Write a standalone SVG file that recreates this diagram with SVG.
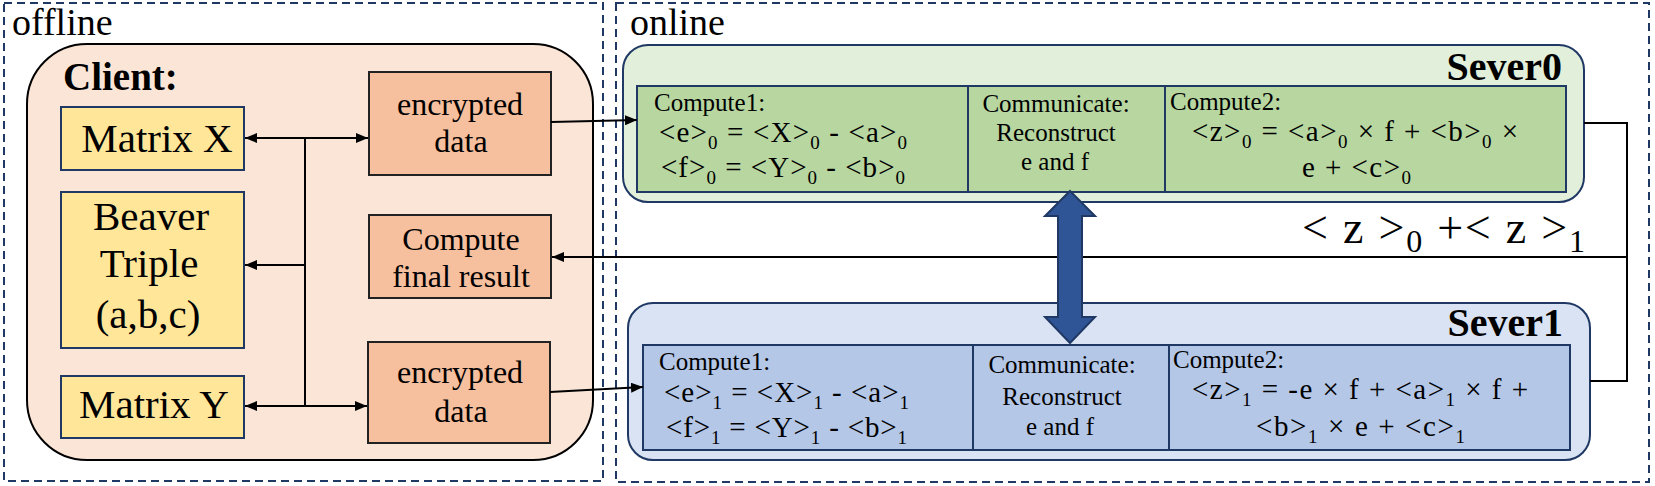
<svg xmlns="http://www.w3.org/2000/svg" width="1655" height="486" viewBox="0 0 1655 486">
<defs>
<style>
text{font-family:"Liberation Serif","Times New Roman",serif;fill:#000}
.zone{fill:none;stroke:#1f3864;stroke-width:2;stroke-dasharray:8 5}
.zl{font-size:38px}
.mat{fill:#ffe699;stroke:#1f3864;stroke-width:2}
.enc{fill:#f6bf9e;stroke:#222;stroke-width:2}
.big{font-size:41px}
.mid{font-size:32px;text-anchor:middle}
.s{font-size:25px}
.f{font-size:29px}
.sub{font-size:19px}
.sv{font-size:40px;font-weight:bold;text-anchor:end}
.ln{fill:none;stroke:#000;stroke-width:2}
</style>
<marker id="ah" viewBox="0 0 12 10" refX="12" refY="5" markerWidth="12" markerHeight="10" markerUnits="userSpaceOnUse" orient="auto">
<path d="M0,0 L12,5 L0,10 Z" fill="#000"/>
</marker>
</defs>
<rect x="0" y="0" width="1655" height="486" fill="#fff"/>

<g id="zone-offline">
<rect class="zone" x="4" y="3" width="599" height="478"/>
<text class="zl" x="12" y="35">offline</text>
</g>
<g id="zone-online">
<rect class="zone" x="616" y="3" width="1033" height="479"/>
<text class="zl" x="630" y="35">online</text>
</g>

<g id="client">
<rect x="27" y="44" width="566" height="416" rx="60" ry="60" fill="#fbe5d6" stroke="#000" stroke-width="2"/>
<text x="63" y="90" style="font-size:39px;font-weight:bold">Client:</text>
</g>

<g id="matrix-x">
<rect class="mat" x="61" y="107" width="183" height="63"/>
<text class="big" x="157" y="152" text-anchor="middle">Matrix X</text>
</g>
<g id="beaver">
<rect class="mat" x="61" y="192" width="183" height="156"/>
<text class="big" x="151" y="230" text-anchor="middle">Beaver</text>
<text class="big" x="149" y="277" text-anchor="middle">Triple</text>
<text class="big" x="148" y="328" text-anchor="middle">(a,b,c)</text>
</g>
<g id="matrix-y">
<rect class="mat" x="61" y="376" width="183" height="62"/>
<text class="big" x="154" y="418" text-anchor="middle">Matrix Y</text>
</g>

<g id="enc1">
<rect class="enc" x="369" y="72" width="182" height="103"/>
<text class="mid" x="460" y="115">encrypted</text>
<text class="mid" x="461" y="152">data</text>
</g>
<g id="final">
<rect class="enc" x="369" y="215" width="182" height="83"/>
<text class="mid" x="461" y="250">Compute</text>
<text class="mid" x="461" y="287">final result</text>
</g>
<g id="enc2">
<rect class="enc" x="368" y="342" width="182" height="101"/>
<text class="mid" x="460" y="383">encrypted</text>
<text class="mid" x="461" y="422">data</text>
</g>

<g id="sever0">
<rect x="623" y="45" width="961" height="157" rx="25" ry="25" fill="#e2efda" stroke="#1f3864" stroke-width="2"/>
<rect x="637" y="86" width="929" height="106" fill="#b7d6a0" stroke="#1f3864" stroke-width="2"/>
<line x1="968" y1="86" x2="968" y2="192" stroke="#1f3864" stroke-width="2"/>
<line x1="1165" y1="86" x2="1165" y2="192" stroke="#1f3864" stroke-width="2"/>
<text class="sv" x="1562" y="80">Sever0</text>
<text class="s" x="654" y="111">Compute1:</text>
<text class="f" x="659" y="142" textLength="248">&lt;e&gt;<tspan class="sub" dy="7">0</tspan><tspan dy="-7"> = &lt;X&gt;</tspan><tspan class="sub" dy="7">0</tspan><tspan dy="-7"> - &lt;a&gt;</tspan><tspan class="sub" dy="7">0</tspan></text>
<text class="f" x="661" y="177" textLength="244">&lt;f&gt;<tspan class="sub" dy="7">0</tspan><tspan dy="-7"> = &lt;Y&gt;</tspan><tspan class="sub" dy="7">0</tspan><tspan dy="-7"> - &lt;b&gt;</tspan><tspan class="sub" dy="7">0</tspan></text>
<text class="s" x="1056" y="112" text-anchor="middle">Communicate:</text>
<text class="s" x="1056" y="141" text-anchor="middle">Reconstruct</text>
<text class="s" x="1055" y="170" text-anchor="middle">e and f</text>
<text class="s" x="1170" y="110">Compute2:</text>
<text class="f" x="1192" y="141" textLength="326">&lt;z&gt;<tspan class="sub" dy="7">0</tspan><tspan dy="-7"> = &lt;a&gt;</tspan><tspan class="sub" dy="7">0</tspan><tspan dy="-7"> × f + &lt;b&gt;</tspan><tspan class="sub" dy="7">0</tspan><tspan dy="-7"> ×</tspan></text>
<text class="f" x="1302" y="177" textLength="109">e + &lt;c&gt;<tspan class="sub" dy="7">0</tspan></text>
</g>

<g id="sever1">
<rect x="628" y="303" width="962" height="157" rx="25" ry="25" fill="#dae3f3" stroke="#1f3864" stroke-width="2"/>
<rect x="643" y="345" width="927" height="105" fill="#b4c7e7" stroke="#1f3864" stroke-width="2"/>
<line x1="973" y1="345" x2="973" y2="450" stroke="#1f3864" stroke-width="2"/>
<line x1="1169" y1="345" x2="1169" y2="450" stroke="#1f3864" stroke-width="2"/>
<text class="sv" x="1563" y="336">Sever1</text>
<text class="s" x="659" y="370">Compute1:</text>
<text class="f" x="664" y="402" textLength="245">&lt;e&gt;<tspan class="sub" dy="7">1</tspan><tspan dy="-7"> = &lt;X&gt;</tspan><tspan class="sub" dy="7">1</tspan><tspan dy="-7"> - &lt;a&gt;</tspan><tspan class="sub" dy="7">1</tspan></text>
<text class="f" x="666" y="437" textLength="241">&lt;f&gt;<tspan class="sub" dy="7">1</tspan><tspan dy="-7"> = &lt;Y&gt;</tspan><tspan class="sub" dy="7">1</tspan><tspan dy="-7"> - &lt;b&gt;</tspan><tspan class="sub" dy="7">1</tspan></text>
<text class="s" x="1062" y="373" text-anchor="middle">Communicate:</text>
<text class="s" x="1062" y="405" text-anchor="middle">Reconstruct</text>
<text class="s" x="1060" y="435" text-anchor="middle">e and f</text>
<text class="s" x="1173" y="368">Compute2:</text>
<text class="f" x="1192" y="399" textLength="336">&lt;z&gt;<tspan class="sub" dy="7">1</tspan><tspan dy="-7"> = -e × f + &lt;a&gt;</tspan><tspan class="sub" dy="7">1</tspan><tspan dy="-7"> × f +</tspan></text>
<text class="f" x="1256" y="436" textLength="209">&lt;b&gt;<tspan class="sub" dy="7">1</tspan><tspan dy="-7"> × e + &lt;c&gt;</tspan><tspan class="sub" dy="7">1</tspan></text>
</g>

<g id="connectors">
<line class="ln" x1="305" y1="138" x2="305" y2="406"/>
<line class="ln" x1="305" y1="138" x2="245" y2="138" marker-end="url(#ah)"/>
<line class="ln" x1="305" y1="138" x2="368" y2="138" marker-end="url(#ah)"/>
<line class="ln" x1="305" y1="265" x2="245" y2="265" marker-end="url(#ah)"/>
<line class="ln" x1="305" y1="406" x2="245" y2="406" marker-end="url(#ah)"/>
<line class="ln" x1="305" y1="406" x2="367" y2="406" marker-end="url(#ah)"/>
<line class="ln" x1="551" y1="122" x2="637" y2="120" marker-end="url(#ah)"/>
<line class="ln" x1="550" y1="392" x2="643" y2="387" marker-end="url(#ah)"/>
<polyline class="ln" points="1584,123 1627,123 1627,381 1590,381"/>
<line class="ln" x1="1627" y1="257" x2="552" y2="257" marker-end="url(#ah)"/>
<polygon points="1070,191 1095,216 1082,216 1082,317 1095,317 1070,343 1045,317 1058,317 1058,216 1045,216" fill="#2f5597" stroke="#1f3864" stroke-width="2"/>
<text x="1302" y="243" style="font-size:46px" textLength="283">&lt; z &gt;<tspan dy="9" style="font-size:32px">0</tspan><tspan dy="-9"> +&lt; z &gt;</tspan><tspan dy="9" style="font-size:32px">1</tspan></text>
</g>
</svg>
